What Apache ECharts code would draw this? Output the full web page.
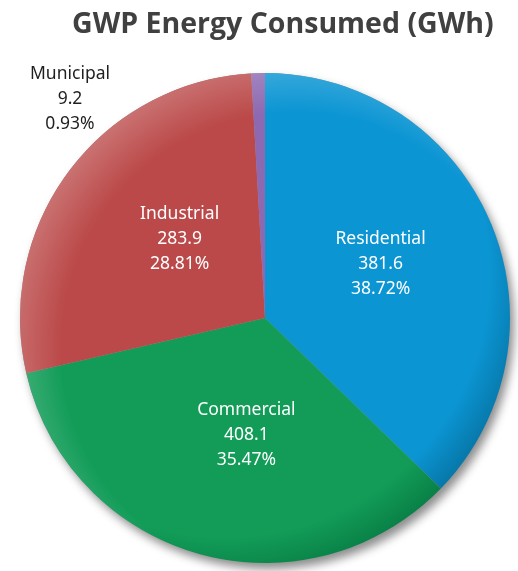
<!DOCTYPE html>
<html>
<head>
<meta charset="utf-8">
<title>GWP Energy Consumed (GWh)</title>
<script src="https://cdn.jsdelivr.net/npm/echarts@6/dist/echarts.min.js"></script>
<style>
  html, body { margin: 0; padding: 0; background: #ffffff; }
  #chart { width: 518px; height: 571px; }
</style>
</head>
<body>
<div id="chart"></div>
<script>
// Sectors and their figures
const sectors = ['Residential', 'Commercial', 'Industrial', 'Municipal'];
const energyGWh = [381.6, 408.1, 283.9, 9.2];
const sharePct = [38.72, 35.47, 28.81, 0.93];

// Base colours per sector: [mid, dark]
const palette = [
  ['#0b95d3', '#06709e'],
  ['#129c58', '#077a42'],
  ['#bb4949', '#973535'],
  ['#8d69b1', '#6f5091']
];

const CX = 265, CY = 318, R = 245;

// radial shading that darkens the lower-right rim
function sliceFill(p) {
  return {
    type: 'radial', x: CX - 40, y: CY - 45, r: R + 70, global: true,
    colorStops: [
      { offset: 0, color: p[0] },
      { offset: 0.84, color: p[0] },
      { offset: 1, color: p[1] }
    ]
  };
}

const chart = echarts.init(document.getElementById('chart'));

chart.setOption({
  animation: false,
  backgroundColor: '#ffffff',
  title: {
    text: 'GWP Energy Consumed (GWh)',
    left: 67,
    top: 5,
    textStyle: {
      fontFamily: 'Open Sans',
      fontWeight: 'bold',
      fontSize: 28.5,
      color: '#404040'
    }
  },
  series: [
    {
      // drop shadow behind the disc
      type: 'pie',
      silent: true,
      center: [CX, CY],
      radius: R,
      z: 1,
      label: { show: false },
      labelLine: { show: false },
      data: [{ value: 1, name: '' }],
      itemStyle: {
        color: '#9a9a9a',
        shadowBlur: 10,
        shadowOffsetX: 4,
        shadowOffsetY: 6,
        shadowColor: 'rgba(0,0,0,0.45)'
      }
    },
    {
      type: 'pie',
      center: [CX, CY],
      radius: R,
      startAngle: 90,
      clockwise: true,
      z: 2,
      avoidLabelOverlap: false,
      itemStyle: { borderWidth: 0 },
      label: {
        position: 'inside',
        fontFamily: 'Noto Sans',
        fontSize: 17.5,
        lineHeight: 25,
        color: '#ffffff',
        align: 'center',
        formatter: function (p) {
          return p.name + '\n' + energyGWh[p.dataIndex] + '\n' +
            sharePct[p.dataIndex].toFixed(2) + '%';
        }
      },
      labelLine: { show: false },
      labelLayout: function (params) {
        if (params.dataIndex === 3) {
          return { x: 70, y: 99, align: 'center', verticalAlign: 'middle' };
        }
        if (params.dataIndex === 0) {
          return { dy: -5 };
        }
        return { dx: 15, dy: -4 };
      },
      data: sectors.map(function (name, i) {
        const item = {
          name: name,
          value: sharePct[i],
          itemStyle: { color: sliceFill(palette[i]) }
        };
        if (i === 3) {
          item.label = { color: '#1f1f1f' };
        }
        return item;
      })
    },
    {
      // soft highlight along the upper-left rim
      type: 'pie',
      silent: true,
      center: [CX, CY],
      radius: R,
      z: 3,
      label: { show: false },
      labelLine: { show: false },
      data: [{ value: 1, name: '' }],
      itemStyle: {
        color: {
          type: 'radial', x: CX + 30, y: CY + 28, r: R + 40, global: true,
          colorStops: [
            { offset: 0, color: 'rgba(255,255,255,0)' },
            { offset: 0.82, color: 'rgba(255,255,255,0)' },
            { offset: 1, color: 'rgba(255,255,255,0.22)' }
          ]
        }
      }
    }
  ]
});
</script>
</body>
</html>
